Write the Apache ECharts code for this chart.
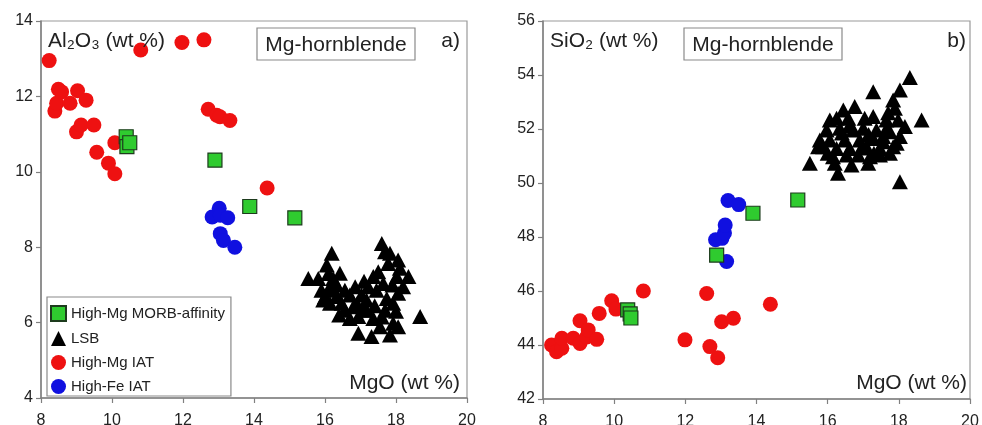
<!DOCTYPE html>
<html>
<head>
<meta charset="utf-8">
<script src="https://cdn.jsdelivr.net/npm/echarts@6/dist/echarts.min.js"></script>
<style>
  html, body { margin: 0; padding: 0; background: #fff; }
  #chart { width: 982px; height: 425px; }
</style>
</head>
<body>
<div id="chart"></div>
<script>
// Amphibole compositions, [MgO wt%, oxide wt%]
const xTicks = [8, 10, 12, 14, 16, 18, 20];
const alTicks = [4, 6, 8, 10, 12, 14];
const siTicks = [42, 44, 46, 48, 50, 52, 54, 56];

// Panel a: Al2O3 vs MgO
const morbAl = [[10.4, 10.93], [10.42, 10.67], [10.5, 10.77], [12.9, 10.31], [13.88, 9.08], [15.15, 8.78]];
const iatMgAl = [
  [8.23, 12.95], [8.39, 11.61], [8.44, 11.82], [8.49, 12.19], [8.58, 12.12], [8.82, 11.82],
  [9.0, 11.06], [9.03, 12.15], [9.13, 11.24], [9.27, 11.9], [9.49, 11.24], [9.57, 10.52],
  [9.9, 10.23], [10.08, 9.95], [10.08, 10.77], [10.81, 13.23], [11.97, 13.43], [12.59, 13.5],
  [12.71, 11.66], [12.95, 11.5], [13.04, 11.46], [13.32, 11.36], [14.37, 9.57]
];
const iatFeAl = [[12.82, 8.8], [13.02, 9.03], [13.05, 8.85], [13.26, 8.78], [13.05, 8.36], [13.14, 8.18], [13.46, 8.0]];
const lsbAl = [
  [17.6, 8.1], [16.19, 7.84], [15.53, 7.17], [15.81, 7.17], [16.05, 7.53], [16.42, 7.31],
  [16.23, 7.17], [16.09, 6.86], [16.0, 6.69], [16.33, 6.69], [16.56, 6.86], [16.85, 6.95],
  [17.03, 6.73], [16.56, 6.33], [16.8, 6.42], [16.7, 6.11], [16.94, 6.16], [17.17, 6.6],
  [17.17, 6.33], [17.36, 6.11], [16.94, 5.72], [17.31, 5.63], [17.83, 5.67], [18.06, 5.89],
  [18.68, 6.16], [17.36, 7.22], [17.45, 6.86], [17.64, 7.04], [17.74, 6.64], [17.69, 6.33],
  [17.92, 6.51], [18.06, 6.78], [18.02, 7.22], [18.35, 7.22], [17.78, 7.57], [18.06, 7.66],
  [17.83, 7.84], [17.69, 7.88], [18.11, 7.44], [17.5, 7.35], [15.9, 6.86], [15.95, 6.6],
  [16.14, 6.51], [16.47, 6.51], [17.22, 6.95], [17.08, 6.33], [17.55, 5.89], [16.33, 7.0],
  [17.92, 5.98], [16.7, 6.73], [16.2, 6.95], [16.9, 6.5], [17.4, 6.45], [17.9, 7.0],
  [18.2, 6.95], [16.4, 6.2], [17.6, 6.15], [16.1, 7.3], [17.1, 7.1], [18.0, 6.3]
];

// Panel b: SiO2 vs MgO
const morbSi = [[10.38, 45.3], [10.45, 45.15], [10.47, 45.0], [12.88, 47.33], [13.9, 48.88], [15.16, 49.37]];
const iatMgSi = [
  [8.24, 44.0], [8.38, 43.75], [8.53, 43.88], [8.53, 44.25], [8.85, 44.25], [9.04, 44.9],
  [9.04, 44.06], [9.23, 44.3], [9.27, 44.56], [9.51, 44.21], [9.58, 45.17], [9.93, 45.64],
  [10.05, 45.33], [10.82, 46.0], [11.99, 44.19], [12.6, 45.91], [12.69, 43.94], [12.91, 43.53],
  [13.02, 44.86], [13.35, 44.99], [14.39, 45.51]
];
const iatFeSi = [[13.2, 49.35], [13.5, 49.2], [12.85, 47.9], [13.03, 47.95], [13.1, 48.15], [13.12, 48.44], [13.16, 47.09]];
const lsbSi = [
  [18.31, 53.91], [17.28, 53.38], [18.03, 53.44], [17.84, 53.07], [17.89, 52.77], [18.64, 52.33],
  [16.76, 52.83], [16.44, 52.7], [16.06, 52.33], [16.25, 52.4], [16.58, 52.4], [17.04, 52.4],
  [17.28, 52.46], [17.65, 52.33], [17.98, 52.33], [18.17, 52.09], [15.97, 51.96], [16.34, 52.03],
  [16.72, 51.96], [17.0, 52.03], [17.37, 51.96], [17.75, 51.9], [18.03, 51.72], [15.78, 51.59],
  [16.06, 51.59], [16.48, 51.59], [16.9, 51.59], [17.28, 51.65], [17.56, 51.53], [17.94, 51.47],
  [15.73, 51.34], [16.25, 51.28], [16.62, 51.28], [17.09, 51.34], [17.47, 51.28], [17.84, 51.34],
  [16.15, 50.97], [16.53, 51.04], [17.19, 50.97], [17.47, 51.04], [17.75, 51.1], [15.5, 50.73],
  [16.2, 50.73], [16.67, 50.67], [17.14, 50.73], [16.29, 50.36], [18.03, 50.05], [16.86, 51.04],
  [17.56, 51.72], [15.87, 51.34], [16.4, 51.85], [17.15, 51.8], [17.65, 52.0], [16.95, 51.3],
  [17.3, 51.1], [16.0, 51.1], [17.7, 52.6], [16.6, 52.1]
];

const FONT = 'Liberation Sans, Arial, Helvetica, sans-serif';
const TXT = '#222';
const AXIS = '#808080';

const names = ['High-Mg MORB-affinity', 'LSB', 'High-Mg IAT', 'High-Fe IAT'];
const styles = {
  'High-Mg MORB-affinity': { symbol: 'rect', symbolSize: 14, itemStyle: { color: '#2fcb2f', borderColor: '#1d3b1d', borderWidth: 1.2, opacity: 1 } },
  'LSB': { symbol: 'triangle', symbolSize: [16, 15], itemStyle: { color: '#000', opacity: 1 } },
  'High-Mg IAT': { symbol: 'circle', symbolSize: 15, itemStyle: { color: '#ee1111', opacity: 1 } },
  'High-Fe IAT': { symbol: 'circle', symbolSize: 15, itemStyle: { color: '#1010e0', opacity: 1 } }
};

function xAxis(gi) {
  return {
    gridIndex: gi, type: 'value',
    min: xTicks[0], max: xTicks[xTicks.length - 1], interval: xTicks[1] - xTicks[0],
    splitLine: { show: false },
    axisLine: { onZero: false, lineStyle: { color: AXIS, width: 1.5 } },
    axisTick: { inside: false, length: 5, lineStyle: { color: AXIS, width: 1.2 } },
    axisLabel: { color: TXT, fontFamily: FONT, fontSize: 16, margin: 15, showMinLabel: true, showMaxLabel: true }
  };
}
function yAxis(gi, ticks) {
  return {
    gridIndex: gi, type: 'value',
    min: ticks[0], max: ticks[ticks.length - 1], interval: ticks[1] - ticks[0],
    splitLine: { show: false },
    axisLine: { onZero: false, lineStyle: { color: AXIS, width: 1.5 } },
    axisTick: { inside: false, length: 5, lineStyle: { color: AXIS, width: 1.2 } },
    axisLabel: { color: TXT, fontFamily: FONT, fontSize: 16, margin: 8, showMinLabel: true, showMaxLabel: true }
  };
}

function scatter(name, gi, data, z) {
  const s = styles[name];
  return {
    name: name, type: 'scatter', xAxisIndex: gi, yAxisIndex: gi,
    data: data, symbol: s.symbol, symbolSize: s.symbolSize, itemStyle: s.itemStyle,
    z: z, silent: true, animation: false
  };
}

function label(x, y, text, align, size) {
  return {
    type: 'text', x: x, y: y, z: 100,
    style: { text: text, fill: TXT, fontFamily: FONT, fontSize: size || 21, align: align || 'left', verticalAlign: 'middle' }
  };
}
function box(x, y, w, h, text) {
  return [
    { type: 'rect', shape: { x: x, y: y, width: w, height: h }, z: 99, style: { fill: '#fff', stroke: '#8a8a8a', lineWidth: 1.2 } },
    label(x + w / 2, y + h / 2 + 1, text, 'center')
  ];
}

const chart = echarts.init(document.getElementById('chart'), null, { renderer: 'canvas' });
chart.setOption({
  animation: false,
  backgroundColor: '#fff',
  grid: [
    { left: 41, top: 21, width: 426, height: 377, outerBoundsMode: 'none', containLabel: false, show: true, borderColor: '#9a9a9a', borderWidth: 1.2, backgroundColor: 'transparent' },
    { left: 543, top: 21, width: 427, height: 378, outerBoundsMode: 'none', containLabel: false, show: true, borderColor: '#9a9a9a', borderWidth: 1.2, backgroundColor: 'transparent' }
  ],
  xAxis: [xAxis(0), xAxis(1)],
  yAxis: [yAxis(0, alTicks), yAxis(1, siTicks)],
  legend: {
    data: names, orient: 'vertical', left: 47, top: 297,
    padding: [8, 6, 2, 3], itemGap: 9, itemWidth: 15, itemHeight: 15,
    borderColor: '#8a8a8a', borderWidth: 1.2, backgroundColor: '#fff',
    textStyle: { color: TXT, fontFamily: FONT, fontSize: 15 },
    selectedMode: false, z: 50
  },
  series: [
    scatter('LSB', 0, lsbAl, 2),
    scatter('High-Mg IAT', 0, iatMgAl, 3),
    scatter('High-Fe IAT', 0, iatFeAl, 4),
    scatter('High-Mg MORB-affinity', 0, morbAl, 5),
    scatter('LSB', 1, lsbSi, 2),
    scatter('High-Mg IAT', 1, iatMgSi, 3),
    scatter('High-Fe IAT', 1, iatFeSi, 4),
    scatter('High-Mg MORB-affinity', 1, morbSi, 5)
  ],
  graphic: [
    label(48, 41, 'Al₂O₃ (wt %)'),
    ...box(257, 28, 158, 32, 'Mg-hornblende'),
    label(460, 41, 'a)', 'right'),
    label(460, 383, 'MgO (wt %)', 'right'),
    label(550, 41, 'SiO₂ (wt %)'),
    ...box(684, 28, 158, 32, 'Mg-hornblende'),
    label(966, 41, 'b)', 'right'),
    label(967, 383, 'MgO (wt %)', 'right')
  ]
});
</script>
</body>
</html>
